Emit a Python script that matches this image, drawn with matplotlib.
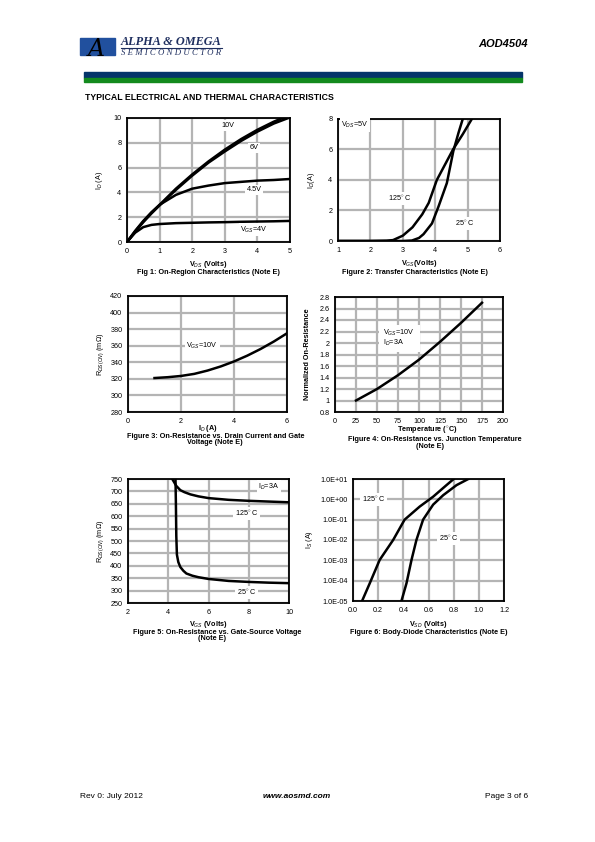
import numpy as np
import matplotlib
matplotlib.use("Agg")
import matplotlib.pyplot as plt
from matplotlib.patches import Rectangle

plt.rcParams['font.family'] = ['Liberation Sans', 'DejaVu Sans']
plt.rcParams['mathtext.fontset'] = 'custom'
plt.rcParams['mathtext.rm'] = 'Liberation Sans'
plt.rcParams['mathtext.it'] = 'Liberation Sans:italic'
plt.rcParams['mathtext.bf'] = 'Liberation Sans:bold'

# Fig 1: on-region, Vds vs Id for several Vgs
vds = [0, 0.25, 0.5, 0.75, 1, 1.5, 2, 2.5, 3, 3.5, 4, 4.5, 5]
id_10v = [0, 0.85, 1.65, 2.35, 3.0, 4.3, 5.45, 6.5, 7.45, 8.3, 9.05, 9.7, 10.25]
id_6v = [0, 0.82, 1.6, 2.3, 2.95, 4.2, 5.35, 6.4, 7.3, 8.15, 8.9, 9.55, 10.05]
id_45v = [0, 0.9, 1.7, 2.4, 3.0, 3.8, 4.3, 4.55, 4.75, 4.85, 4.95, 5.0, 5.08]
id_4v = [0, 0.75, 1.2, 1.38, 1.45, 1.52, 1.55, 1.58, 1.6, 1.63, 1.65, 1.67, 1.7]

# Fig 2: transfer
vgs_125 = [1, 2, 2.5, 2.7, 3.0, 3.3, 3.6, 3.8, 4.05, 4.25, 4.55, 4.85, 5.13]
id_125 = [0, 0, 0.02, 0.06, 0.35, 0.9, 1.75, 2.5, 4.0, 4.8, 6.0, 7.0, 8.0]
vgs_25 = [1, 3.0, 3.28, 3.5, 3.64, 3.9, 4.1, 4.36, 4.56, 4.72, 4.85]
id_25 = [0, 0, 0.03, 0.2, 0.45, 1.15, 2.25, 3.8, 5.9, 7.1, 8.0]

# Fig 3: Rds(on) vs Id
id_f3 = [1, 1.5, 2, 2.5, 3, 3.5, 4, 4.5, 5, 5.5, 6]
rds_f3 = [321, 322, 323.5, 326, 330, 335, 341, 348, 356, 365, 375]

# Fig 4: normalized on-resistance vs temperature
temp = [25, 50, 75, 100, 125, 150, 175]
rnorm = [1.0, 1.2, 1.44, 1.71, 2.02, 2.35, 2.7]

# Fig 5: Rds(on) vs Vgs
vgs5_125 = [4.2, 4.4, 4.6, 4.8, 5.1, 5.5, 6.0, 7.0, 8.0, 9.0, 10.0]
rds5_125 = [750, 722, 705, 697, 688, 680, 673, 666, 662, 659, 656]
vgs5_25 = [4.36, 4.38, 4.4, 4.43, 4.5, 4.6, 4.75, 4.9, 5.2, 5.5, 6.0, 7.0, 8.0, 9.0, 10.0]
rds5_25 = [750, 650, 520, 445, 415, 395, 380, 369, 360, 354, 347, 339, 335, 332, 330]

# Fig 6: body diode
vsd_125 = [0.072, 0.133, 0.212, 0.319, 0.41, 0.53, 0.637, 0.743, 0.8]
is_125 = [1e-5, 7.4e-5, 1.05e-3, 1e-2, 1e-1, 4.4e-1, 1.35, 5.0, 10]
vsd_25 = [0.385, 0.425, 0.465, 0.504, 0.557, 0.637, 0.717, 0.823, 0.916]
is_25 = [1e-5, 7.4e-5, 1.05e-3, 1e-2, 1e-1, 5.5e-1, 1.6, 5.0, 10]

W, H = 595, 842
fig = plt.figure(figsize=(5.95, 8.42), dpi=100)

GRID = '#b4b4b4'
FS = 5.2


def px_axes(x0, y0, x1, y1):
    return fig.add_axes([x0 / W, 1 - y1 / H, (x1 - x0) / W, (y1 - y0) / H])


def style(ax):
    ax.grid(True, color=GRID, lw=1.6)
    ax.set_axisbelow(True)
    for s in ax.spines.values():
        s.set_linewidth(1.3)
    ax.tick_params(length=0, labelsize=FS, pad=4)


def ftext(x, y, s, **kw):
    fig.text(x / W, 1 - y / H, s, **kw)


box = dict(facecolor='white', edgecolor='none', pad=1.2)
lab = dict(fontsize=FS, ha='center', va='center', bbox=box)
bold = dict(fontsize=FS, fontweight='bold', ha='center', va='center')

# ---- header ----
ftext(528, 44, 'AOD4504', fontsize=8, fontweight='bold', fontstyle='italic', ha='right', va='center')
fig.patches.append(Rectangle((84 / W, 1 - 78 / H), 438 / W, 6 / H, transform=fig.transFigure,
                             color='#04346a', zorder=0))
fig.patches.append(Rectangle((84 / W, 1 - 82 / H), 438 / W, 4 / H, transform=fig.transFigure,
                             color='#138a1e', zorder=0))
fig.patches.append(Rectangle((80 / W, 1 - 55 / H), 35 / W, 17 / H, transform=fig.transFigure,
                             color='#21509e', zorder=1))
ftext(96, 49, 'A', fontsize=17, fontfamily='DejaVu Serif', fontstyle='italic', color='black',
      ha='center', va='center')
ftext(121, 42, 'ALPHA & OMEGA', fontsize=8.8, fontfamily='Liberation Serif', fontweight='bold',
      fontstyle='italic', color='#1f2f5f', va='center')
fig.lines.append(plt.Line2D([121 / W, 222 / W], [1 - 47.5 / H, 1 - 47.5 / H], transform=fig.transFigure,
                            color='#1f2f5f', lw=0.8))
ftext(121, 53, 'S E M I C O N D U C T O R', fontsize=6.3, fontfamily='Liberation Serif',
      fontstyle='italic', color='#1f2f5f', va='center')
ftext(85, 98, 'TYPICAL ELECTRICAL AND THERMAL CHARACTERISTICS', fontsize=6.3, fontweight='bold',
      va='center')

# ---- Fig 1 ----
ax = px_axes(127, 118, 290, 242)
style(ax)
for y in (id_10v, id_6v, id_45v, id_4v):
    ax.plot(vds, y, color='black', lw=1.8)
ax.set_xlim(0, 5)
ax.set_ylim(0, 10)
ax.set_xticks(range(0, 6))
ax.set_yticks(range(0, 11, 2))
ax.text(3.1, 9.4, '10V', **lab)
ax.text(3.9, 7.6, '6V', **lab)
ax.text(3.9, 4.2, '4.5V', **lab)
ax.text(3.9, 1.0, 'V$_{GS}$=4V', **lab)
ax.set_ylabel('I$_D$ (A)', fontsize=FS, labelpad=6)
ftext(208, 264, 'V$_{DS}$ (Volts)', **bold)
ftext(208, 272.5, 'Fig 1: On-Region Characteristics (Note E)', **bold)

# ---- Fig 2 ----
ax = px_axes(338, 119, 500, 241)
style(ax)
ax.plot(vgs_125, id_125, color='black', lw=1.8)
ax.plot(vgs_25, id_25, color='black', lw=1.8)
ax.set_xlim(1, 6)
ax.set_ylim(0, 8)
ax.set_xticks(range(1, 7))
ax.set_yticks(range(0, 9, 2))
ax.text(1.1, 7.6, 'V$_{DS}$=5V', fontsize=FS, ha='left', va='center', bbox=box)
ax.text(2.9, 2.8, '125$^{\\circ}$ C', **lab)
ax.text(4.92, 1.15, '25$^{\\circ}$ C', **lab)
ax.set_ylabel('I$_D$(A)', fontsize=FS, labelpad=8)
ftext(419, 263.5, 'V$_{GS}$(Volts)', **bold)
ftext(415, 272.5, 'Figure 2: Transfer Characteristics (Note E)', **bold)

# ---- Fig 3 ----
ax = px_axes(128, 296, 287, 412)
style(ax)
ax.plot(id_f3, rds_f3, color='black', lw=1.8)
ax.set_xlim(0, 6)
ax.set_ylim(280, 420)
ax.set_xticks(range(0, 7, 2))
ax.set_yticks(range(280, 421, 20))
ax.text(2.8, 360, 'V$_{GS}$=10V', **lab)
ax.set_ylabel('R$_{DS(ON)}$ (m\u03a9)', fontsize=FS, labelpad=3)
ftext(208, 428, 'I$_D$ (A)', **bold)
ftext(216, 436.5, 'Figure 3: On-Resistance vs. Drain Current and Gate', **bold)
ftext(215, 442.5, 'Voltage (Note E)', **bold)

# ---- Fig 4 ----
ax = px_axes(335, 297, 503, 412)
style(ax)
ax.add_patch(Rectangle((52, 1.85), 49, 0.47, facecolor='white', edgecolor='none', zorder=1.5))
ax.plot(temp, rnorm, color='black', lw=1.8, zorder=3)
ax.set_xlim(0, 200)
ax.set_ylim(0.8, 2.8)
ax.set_xticks(range(0, 201, 25))
ax.set_yticks(np.arange(0.8, 2.81, 0.2))
ax.set_yticklabels(['0.8', '1', '1.2', '1.4', '1.6', '1.8', '2', '2.2', '2.4', '2.6', '2.8'])
ax.text(57, 2.18, 'V$_{GS}$=10V', fontsize=FS, ha='left', va='center', zorder=4)
ax.text(57, 2.0, 'I$_D$=3A', fontsize=FS, ha='left', va='center', zorder=4)
ax.set_ylabel('Normalized On-Resistance', fontsize=FS, fontweight='bold', labelpad=6)
ftext(427, 430.5, 'Temperature ($^{\\circ}$C)', **bold)
ftext(435, 439.5, 'Figure 4: On-Resistance vs. Junction Temperature', **bold)
ftext(430, 446.5, '(Note E)', **bold)

# ---- Fig 5 ----
ax = px_axes(128, 479, 289, 603)
style(ax)
ax.plot(vgs5_125, rds5_125, color='black', lw=1.8)
ax.plot(vgs5_25, rds5_25, color='black', lw=1.8)
ax.set_xlim(2, 10)
ax.set_ylim(250, 750)
ax.set_xticks(range(2, 11, 2))
ax.set_yticks(range(250, 751, 50))
ax.text(9.0, 718, 'I$_D$=3A', **lab)
ax.text(7.9, 611, '125$^{\\circ}$ C', **lab)
ax.text(7.9, 292, '25$^{\\circ}$ C', **lab)
ax.set_ylabel('R$_{DS(ON)}$ (m\u03a9)', fontsize=FS, labelpad=3)
ftext(208, 624, 'V$_{GS}$ (Volts)', **bold)
ftext(217, 632, 'Figure 5: On-Resistance vs. Gate-Source Voltage', **bold)
ftext(212, 639, '(Note E)', **bold)

# ---- Fig 6 ----
ax = px_axes(353, 479, 504, 601)
style(ax)
ax.semilogy(vsd_125, is_125, color='black', lw=1.8)
ax.semilogy(vsd_25, is_25, color='black', lw=1.8)
ax.set_xlim(0, 1.2)
ax.set_ylim(1e-5, 1e1)
ax.set_xticks(np.arange(0, 1.21, 0.2))
ax.set_xticklabels(['0.0', '0.2', '0.4', '0.6', '0.8', '1.0', '1.2'])
ax.set_yticks([1e-5, 1e-4, 1e-3, 1e-2, 1e-1, 1e0, 1e1])
ax.set_yticklabels(['1.0E-05', '1.0E-04', '1.0E-03', '1.0E-02', '1.0E-01', '1.0E+00', '1.0E+01'])
ax.minorticks_off()
ax.text(0.165, 1.0, '125$^{\\circ}$ C', **lab)
ax.text(0.76, 1.2e-2, '25$^{\\circ}$ C', **lab)
ax.set_ylabel('I$_S$ (A)', fontsize=FS, labelpad=4)
ftext(428, 624, 'V$_{SD}$ (Volts)', **bold)
ftext(429, 632, 'Figure 6: Body-Diode Characteristics (Note E)', **bold)

# ---- footer ----
ftext(80, 797, 'Rev 0: July 2012', fontsize=6, va='center')
ftext(297, 797, 'www.aosmd.com', fontsize=6, fontweight='bold', fontstyle='italic', ha='center',
      va='center')
ftext(528, 797, 'Page 3 of 6', fontsize=6, ha='right', va='center')

fig.savefig('out.png', dpi=100)
